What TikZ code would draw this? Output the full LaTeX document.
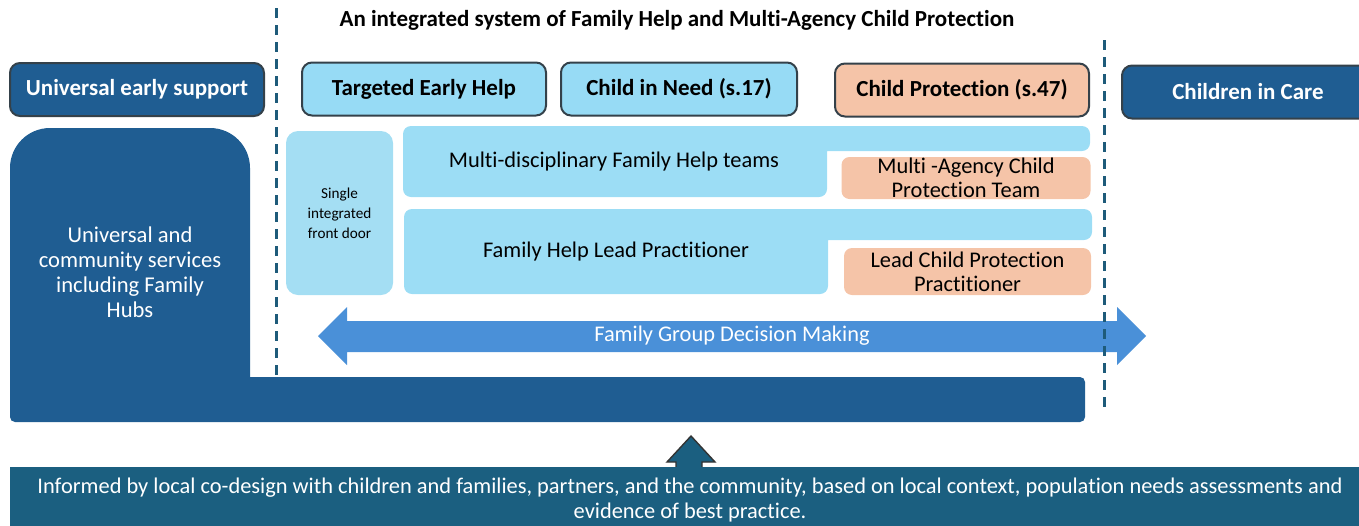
\documentclass[tikz,border=0pt]{standalone}
\usepackage{fontspec}
\setmainfont[Ligatures={NoCommon,NoContextual}]{Carlito}
\usetikzlibrary{calc}
\definecolor{cNavy}{HTML}{1F5D92}
\definecolor{cSky}{HTML}{97DBF5}
\definecolor{cSkyPale}{HTML}{A4DEF3}
\definecolor{cPeach}{HTML}{F5C4A8}
\definecolor{cArrow}{HTML}{4A90D8}
\definecolor{cTeal}{HTML}{1B5F80}
\definecolor{cDash}{HTML}{1E5B7A}
\definecolor{cEdge}{HTML}{34414A}

\begin{document}
\begin{tikzpicture}[
    x=0.5pt, y=-0.5pt,
    % --- Header boxes ---
    hdr/.style={
        draw=cEdge, line width=1pt, rounded corners=5pt,
        minimum height=26.5pt, inner sep=0pt,
        font=\bfseries\fontsize{11.5}{13}\selectfont
    },
    ub/.style={hdr, fill=cNavy, text=white},
    sb/.style={hdr, fill=cSky},
    pb/.style={hdr, fill=cPeach},
    % --- Inner panels ---
    txt/.style={align=center, inner sep=0pt, font=\fontsize{11.2}{12}\selectfont},
    cp/.style={txt, fill=cPeach, rounded corners=4pt},
    tab/.style={fill=cSky!95!white},
    % --- Lines ---
    divider/.style={draw=cDash, line width=1.5pt, dash pattern=on 5pt off 3.5pt},
]
\useasboundingbox (0,0) rectangle (1359,525);

% =============================================
% TITLE AND DIVIDERS
% =============================================

\node[font=\bfseries\fontsize{11.5}{13}\selectfont] (title) at (677,20)
    {An integrated system of Family Help and Multi-Agency Child Protection};

\coordinate (dl1) at (276,8);
\coordinate (dl2) at (276,380);
\coordinate (dr1) at (1104,40);
\coordinate (dr2) at (1104,410);

% =============================================
% HEADER ROW
% =============================================

\node[ub, minimum width=127pt] (univ) at (137,89.5) {Universal early support};
\node[sb, minimum width=122pt] (teh)  at (424,89)   {Targeted Early Help};
\node[sb, minimum width=118pt] (cin)  at (679,89)   {Child in Need (s.17)};
\node[pb, minimum width=127pt] (cpr)  at (962,90)   {Child Protection (s.47)};
\node[ub, minimum width=126pt] (cic)  at (1248,92)  {Children in Care};

% =============================================
% UNIVERSAL SERVICES (L-shaped block)
% =============================================

% corner radius is taken from the option set before each segment
\fill[cNavy] (500,422) [rounded corners=2.5pt] -- (10,422)
    [rounded corners=20pt] -- (10,128) -- (250,128)
    [sharp corners] -- (250,377)
    [rounded corners=2.5pt] -- (1085,377) -- (1085,422) -- cycle;
\node[txt, text=white, font=\fontsize{11.3}{12.5}\selectfont] (ucs) at (130,272)
    {Universal and\\community services\\including Family\\Hubs};

% =============================================
% FAMILY HELP PANELS
% =============================================

\node[txt, fill=cSkyPale, rounded corners=6pt, minimum width=53.5pt,
      minimum height=82pt, font=\fontsize{7.6}{10}\selectfont] (door) at (339.5,213)
    {Single\\integrated\\front door};

% Teams panel with tab to the right
\fill[tab] (600,126) [rounded corners=4pt] -- (1090,126) -- (1090,151)
    [sharp corners] -- (827,151)
    [rounded corners=4pt] -- (827,197) -- (403,197) -- (403,126) -- cycle;
\node[txt] (mdt) at (614,162) {Multi-disciplinary Family Help teams};
\node[cp, minimum width=124.5pt, minimum height=21pt] (mact) at (966,178)
    {Multi -Agency Child\\Protection Team};

% Lead practitioner panel
\fill[tab] (600,209) [rounded corners=4pt] -- (1092,209) -- (1092,240)
    [sharp corners] -- (828,240)
    [rounded corners=4pt] -- (828,294) -- (404,294) -- (404,209) -- cycle;
\node[txt] (fhlp) at (616,252) {Family Help Lead Practitioner};
\node[cp, minimum width=123.5pt, minimum height=23.5pt] (lcpp) at (967.5,271.5)
    {Lead Child Protection\\Practitioner};

% =============================================
% FAMILY GROUP DECISION MAKING
% =============================================

\fill[cArrow] (318,336) -- (347,307) -- (347,321) -- (1117,321) -- (1117,307)
    -- (1146,336) -- (1117,365) -- (1117,352) -- (347,352) -- (347,365) -- cycle;
\node[txt, text=white] (fgdm) at (732,336) {Family Group Decision Making};

% dashed boundaries of the integrated system
\draw[divider] (dl1) -- (dl2);
\draw[divider] (dr1) -- (dr2);

% =============================================
% CO-DESIGN BAND
% =============================================

\filldraw[fill=cTeal, draw=black!80, line width=0.7pt]
    (676,472) -- (676,462) -- (667,462) -- (691,436) -- (715,462)
    -- (702,462) -- (702,472);
\fill[cTeal] (10,467) rectangle (1370,530);
\node[txt, text=white, font=\fontsize{11.2}{12.5}\selectfont] (band) at (690,500.5)
    {Informed by local co-design with children and families, partners, and the community, based on local context, population needs assessments and\\
     evidence of best practice.};

\end{tikzpicture}
\end{document}
